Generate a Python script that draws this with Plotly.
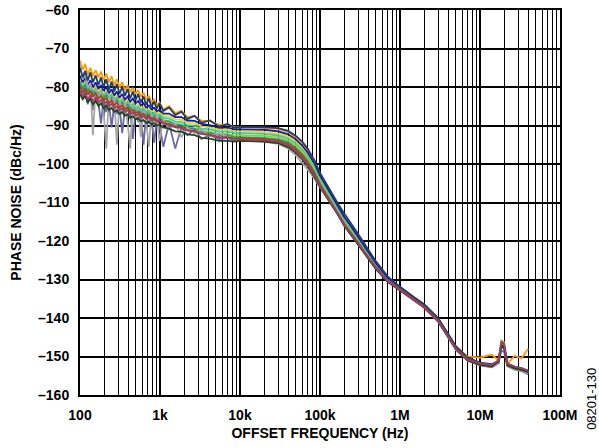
import plotly.graph_objects as go

# Offset frequencies (Hz)
F_LOW = [100, 108, 116, 125, 135, 145, 157, 170, 183, 197, 213, 230, 248, 268, 289, 312, 337,
         364, 393, 424, 458, 494, 533, 576, 622, 671, 725, 782, 845, 912, 985, 1100, 1300,
         1550, 1850, 2200, 2700, 3300, 4200, 5500, 7000, 8500]
F_HIGH = [10000, 15000, 20000, 30000, 40000, 50000, 60000, 70000, 85000, 100000,
          130000, 170000, 200000, 250000, 300000, 400000, 500000, 700000, 1e6, 1.5e6,
          2e6, 3e6, 4e6, 5e6, 7e6, 1e7, 1.4e7, 1.7e7, 1.85e7, 2e7, 2.2e7, 2.7e7, 3.3e7, 4e7]

# Phase noise (dBc/Hz), low-offset region
orange_low = [-73.2, -75.5, -74.0, -76.8, -75.0, -77.2, -75.6, -77.5, -76.0, -78.2, -76.5, -78.8,
              -77.2, -79.5, -78.0, -80.2, -78.8, -80.8, -79.5, -81.3, -80.2, -81.8, -80.8, -82.5,
              -81.5, -83.2, -82.3, -84.0, -83.2, -84.8, -84.0, -85.8, -85.0, -86.8, -86.2, -87.8,
              -87.5, -88.8, -88.8, -89.8, -89.8, -90.4]
navy_low = [-75.0, -77.5, -75.8, -78.3, -76.2, -78.8, -77.0, -79.5, -77.5, -80.0, -78.0, -80.8,
            -78.6, -81.2, -79.2, -81.8, -80.0, -82.3, -80.5, -83.0, -81.2, -83.5, -81.8, -84.0,
            -82.5, -84.6, -83.0, -85.2, -83.8, -85.6, -84.2, -86.2, -85.3, -87.3, -86.4, -88.3,
            -87.5, -89.3, -88.7, -90.3, -89.6, -90.6]
blue_low = [-77.0, -78.8, -77.6, -79.5, -78.2, -80.0, -78.8, -80.5, -79.5, -81.0, -80.0, -81.6,
            -80.6, -82.2, -81.2, -82.8, -81.8, -83.3, -82.5, -83.8, -83.0, -84.3, -83.6, -84.8,
            -84.2, -85.3, -84.8, -85.8, -85.4, -86.3, -85.9, -86.9, -86.9, -87.8, -87.8, -88.7,
            -88.8, -89.6, -89.9, -90.6, -90.5, -91.0]
yellow_low = [-78.0, -79.5, -78.5, -80.2, -79.2, -80.8, -79.8, -81.3, -80.5, -81.8, -81.0, -82.4,
              -81.6, -83.0, -82.2, -83.5, -82.8, -84.0, -83.4, -84.5, -84.0, -85.0, -84.6, -85.5,
              -85.2, -86.0, -85.7, -86.4, -86.2, -86.9, -86.7, -87.5, -87.6, -88.4, -88.5, -89.3,
              -89.5, -90.2, -90.5, -91.1, -91.1, -91.5]
cyan_low = [-78.5, -80.2, -79.0, -80.8, -79.8, -81.3, -80.4, -81.8, -81.0, -82.3, -81.5, -82.9,
            -82.1, -83.4, -82.7, -84.0, -83.3, -84.5, -83.9, -85.0, -84.5, -85.5, -85.1, -86.0,
            -85.6, -86.5, -86.2, -87.0, -86.7, -87.4, -87.2, -88.0, -88.2, -89.0, -89.1, -89.9,
            -90.1, -90.8, -91.0, -91.6, -91.6, -92.0]
lime_low = [-79.2, -80.8, -79.7, -81.4, -80.4, -81.9, -81.0, -82.4, -81.6, -82.9, -82.1, -83.4,
            -82.7, -84.0, -83.3, -84.5, -83.9, -85.0, -84.5, -85.6, -85.1, -86.1, -85.7, -86.6,
            -86.3, -87.1, -86.8, -87.5, -87.3, -88.0, -87.8, -88.6, -88.8, -89.6, -89.7, -90.5,
            -90.7, -91.4, -91.6, -92.2, -92.2, -92.6]
teal_low = [-78.8, -80.6, -79.5, -81.2, -80.2, -81.8, -80.9, -82.3, -81.5, -82.9, -82.1, -83.5,
            -82.8, -84.0, -83.4, -84.6, -84.0, -85.2, -84.6, -85.7, -85.2, -86.2, -85.8, -86.7,
            -86.4, -87.2, -86.9, -87.7, -87.4, -88.1, -87.9, -88.8, -89.0, -89.8, -89.9, -90.7,
            -90.9, -91.7, -91.9, -92.5, -92.5, -93.0]
rust_low = [-79.8, -81.5, -80.4, -82.0, -81.0, -82.6, -81.6, -83.1, -82.3, -83.6, -82.9, -84.2,
            -83.5, -84.7, -84.1, -85.3, -84.7, -85.8, -85.3, -86.3, -85.9, -86.8, -86.4, -87.3,
            -87.0, -87.8, -87.5, -88.2, -88.0, -88.7, -88.5, -89.3, -89.6, -90.3, -90.4, -91.2,
            -91.4, -92.2, -92.4, -93.0, -93.0, -93.4]
slate_low = [-79.5, -83.0, -80.5, -84.5, -81.5, -86.0, -82.0, -84.0, -89.5, -83.0, -86.5, -84.0,
             -90.5, -84.5, -87.0, -85.0, -92.0, -85.5, -88.0, -86.0, -93.5, -86.5, -89.0, -87.0,
             -95.0, -87.5, -89.5, -88.0, -94.5, -88.5, -90.0, -95.5, -89.5, -96.0, -90.5, -92.5,
             -91.0, -93.5, -92.5, -93.5, -93.2, -94.0]
gray_low = [-74.0, -78.0, -76.5, -80.0, -79.0, -92.5, -80.5, -83.0, -81.0, -86.0, -96.0, -82.0,
            -84.5, -82.5, -95.0, -83.5, -87.0, -84.0, -89.0, -96.0, -85.0, -88.0, -85.5, -93.0,
            -86.0, -88.5, -95.5, -87.0, -89.5, -87.5, -94.0, -88.5, -91.0, -89.5, -93.0, -90.5,
            -92.0, -91.0, -92.8, -92.0, -93.0, -93.5]
maroon_low = [-81.0, -82.5, -81.5, -83.2, -82.2, -83.6, -82.8, -84.0, -83.3, -84.5, -83.8, -85.0,
              -84.4, -85.5, -85.0, -86.0, -85.5, -86.5, -86.0, -87.0, -86.6, -87.4, -87.1, -87.9,
              -87.6, -88.3, -88.0, -88.7, -88.4, -89.0, -88.8, -89.5, -89.8, -90.5, -90.6, -91.3,
              -91.5, -92.2, -92.5, -93.1, -93.2, -93.5]
dkgreen_low = [-81.8, -83.2, -82.3, -84.0, -83.0, -84.5, -83.6, -85.0, -84.2, -85.5, -84.8, -86.0,
               -85.4, -86.5, -86.0, -87.0, -86.5, -87.5, -87.1, -88.0, -87.6, -88.4, -88.1, -88.9,
               -88.6, -89.3, -89.0, -89.7, -89.4, -90.0, -89.8, -90.5, -90.8, -91.5, -91.6, -92.3,
               -92.5, -93.2, -93.4, -94.0, -94.0, -94.2]

# Phase noise (dBc/Hz), high-offset region
orange_high = [-90.5, -90.5, -90.6, -90.9, -91.7, -93.0, -94.5, -96.3, -99.3, -102.5, -106.8, -110.8,
               -113.2, -116.0, -118.5, -122.5, -125.5, -129.4, -132.0, -134.7, -136.5, -140.2, -144.2,
               -147.5, -150.0, -150.3, -149.5, -151.0, -147.0, -147.5, -152.0, -149.8, -150.5, -148.0]
navy_high = [-90.4, -90.4, -90.4, -90.7, -91.4, -92.7, -94.2, -96.0, -99.0, -102.3, -106.5, -110.5,
             -112.8, -115.7, -118.2, -122.2, -125.3, -129.2, -131.9, -134.6, -136.4, -140.0, -144.0,
             -147.3, -150.3, -151.6, -152.0, -151.3, -147.5, -147.8, -151.8, -152.6, -153.0, -154.0]
blue_high = [-91.0, -91.0, -91.1, -91.5, -92.3, -93.6, -95.2, -97.0, -99.8, -103.0, -107.2, -111.2,
             -113.7, -116.5, -118.9, -122.9, -125.8, -129.6, -132.1, -134.8, -136.6, -140.3, -144.3,
             -147.6, -150.5, -151.8, -152.3, -151.5, -147.0, -147.5, -152.0, -152.8, -153.2, -153.8]
yellow_high = [-91.5, -91.6, -91.7, -92.1, -92.9, -94.2, -95.8, -97.6, -100.4, -103.6, -107.7, -111.7,
               -114.2, -116.9, -119.3, -123.2, -126.1, -129.8, -132.2, -134.9, -136.7, -140.4, -144.4,
               -147.7, -150.6, -151.9, -152.4, -151.6, -146.8, -147.2, -152.2, -152.9, -153.3, -153.9]
cyan_high = [-92.0, -92.1, -92.2, -92.6, -93.4, -94.7, -96.3, -98.1, -100.9, -104.1, -108.1, -112.1,
             -114.6, -117.3, -119.7, -123.5, -126.4, -130.0, -132.3, -135.0, -136.8, -140.5, -144.5,
             -147.8, -150.7, -152.0, -152.5, -151.7, -147.5, -147.8, -152.3, -153.0, -153.4, -154.0]
lime_high = [-92.5, -92.6, -92.7, -93.1, -93.9, -95.2, -96.8, -98.6, -101.4, -104.6, -108.5, -112.5,
             -115.0, -117.7, -120.0, -123.8, -126.6, -130.2, -132.4, -135.1, -136.9, -140.6, -144.6,
             -147.9, -150.8, -152.0, -152.5, -151.0, -145.8, -146.3, -152.0, -153.0, -153.5, -154.2]
teal_high = [-93.0, -93.1, -93.2, -93.6, -94.4, -95.8, -97.4, -99.2, -102.0, -105.1, -109.0, -112.9,
             -115.4, -118.1, -120.3, -124.1, -126.8, -130.3, -132.5, -135.2, -137.0, -140.7, -144.7,
             -148.0, -150.9, -152.1, -152.6, -151.4, -146.5, -147.0, -152.2, -153.1, -153.6, -154.5]
rust_high = [-93.3, -93.4, -93.5, -93.9, -94.8, -96.2, -97.8, -99.6, -102.4, -105.4, -109.2, -113.1,
             -115.6, -118.3, -120.5, -124.3, -126.9, -130.4, -132.5, -135.2, -137.0, -140.6, -144.6,
             -147.9, -150.7, -151.9, -152.3, -151.2, -147.0, -147.3, -152.0, -152.8, -153.3, -154.0]
slate_high = [-93.5, -93.7, -93.8, -94.3, -95.3, -96.8, -98.5, -100.3, -103.0, -105.8, -109.4, -113.3,
              -115.8, -118.5, -120.7, -124.4, -127.0, -130.4, -132.6, -135.3, -137.2, -140.9, -144.9,
              -148.2, -151.1, -152.3, -152.8, -151.8, -148.5, -148.8, -152.5, -153.4, -153.8, -154.6]
gray_high = [-93.8, -94.0, -94.2, -94.8, -96.0, -97.8, -99.6, -101.4, -103.8, -106.0, -109.5, -113.2,
             -115.9, -118.7, -121.0, -124.6, -127.2, -130.3, -132.6, -135.4, -137.3, -141.0, -145.0,
             -148.3, -151.0, -152.2, -152.7, -151.6, -147.5, -147.8, -152.4, -153.3, -153.7, -154.3]
maroon_high = [-93.6, -93.7, -93.8, -94.2, -95.2, -96.7, -98.4, -100.2, -102.9, -105.7, -109.3, -113.1,
               -115.7, -118.4, -120.7, -124.4, -127.0, -130.4, -132.7, -135.4, -137.2, -140.8, -144.8,
               -148.0, -150.8, -151.8, -152.2, -151.0, -146.2, -146.6, -151.9, -152.6, -153.0, -153.6]
dkgreen_high = [-94.0, -94.1, -94.2, -94.6, -95.6, -97.1, -98.8, -100.6, -103.3, -106.0, -109.6, -113.4,
                -116.0, -118.7, -121.0, -124.7, -127.3, -130.6, -132.8, -135.5, -137.3, -140.9, -144.9,
                -148.1, -151.0, -152.2, -152.6, -151.3, -147.2, -147.5, -152.3, -153.1, -153.5, -154.0]

SERIES = [
    ("orange", orange_low, orange_high, "#ff9900"),
    ("yellow", yellow_low, yellow_high, "#e0e000"),
    ("cyan", cyan_low, cyan_high, "#33c4cc"),
    ("lime", lime_low, lime_high, "#99cc33"),
    ("blue", blue_low, blue_high, "#1a1aa8"),
    ("teal", teal_low, teal_high, "#339966"),
    ("slate", slate_low, slate_high, "#6a6aa8"),
    ("gray", gray_low, gray_high, "#a6a6a6"),
    ("navy", navy_low, navy_high, "#1f3d6e"),
    ("rust", rust_low, rust_high, "#a8441a"),
    ("dkgreen", dkgreen_low, dkgreen_high, "#1a4a1a"),
    ("maroon", maroon_low, maroon_high, "#a03c6a"),
]

X_TICKS = [100, 1000, 10000, 100000, 1e6, 1e7, 1e8]
X_LABELS = ["100", "1k", "10k", "100k", "1M", "10M", "100M"]
Y_TICKS = [-160, -150, -140, -130, -120, -110, -100, -90, -80, -70, -60]
Y_LABELS = ["–160", "–150", "–140", "–130", "–120", "–110", "–100", "–90", "–80", "–70", "–60"]

fig = go.Figure()
for name, lo, hi, color in SERIES:
    assert len(lo) == len(F_LOW) and len(hi) == len(F_HIGH), name
    fig.add_trace(go.Scatter(x=F_LOW + F_HIGH, y=lo + hi, mode="lines", name=name,
                             line=dict(color=color, width=1.8), showlegend=False))

FONT = "Liberation Sans, Arial, sans-serif"
fig.update_layout(
    width=599, height=448,
    margin=dict(l=80, r=39, t=10, b=53),
    paper_bgcolor="white", plot_bgcolor="white",
    font=dict(family=FONT, size=14, color="black"),
    showlegend=False,
)
fig.update_xaxes(
    type="log", range=[2, 8], automargin=False,
    tickvals=X_TICKS, ticktext=X_LABELS,
    tickfont=dict(family=FONT, size=14, color="black", weight="bold"),
    ticklabelstandoff=6, ticklabeloverflow="allow",
    showgrid=True, gridcolor="black", gridwidth=1.5,
    minor=dict(showgrid=True, gridcolor="black", gridwidth=1.3, dtick="D1", ticks=""),
    showline=True, linecolor="black", linewidth=2, mirror=True,
    ticks="", zeroline=False,
    title=dict(text="<b>OFFSET FREQUENCY (Hz)</b>", font=dict(family=FONT, size=14), standoff=6),
)
fig.update_yaxes(
    range=[-160, -60], automargin=False,
    tickvals=Y_TICKS, ticktext=Y_LABELS,
    tickfont=dict(family=FONT, size=14, color="black", weight="bold"),
    ticklabelstandoff=6, ticklabeloverflow="allow",
    showgrid=True, gridcolor="black", gridwidth=1.5,
    showline=True, linecolor="black", linewidth=2, mirror=True,
    ticks="", zeroline=False,
    title=dict(text="<b>PHASE NOISE (dBc/Hz)</b>", font=dict(family=FONT, size=14), standoff=13),
)
fig.add_annotation(text="08201-130", xref="paper", yref="paper", x=1.0667, y=-0.01,
                   xanchor="center", yanchor="middle", textangle=-90, showarrow=False,
                   font=dict(family=FONT, size=13, color="black"))

# remove the browser's default page margin so the figure sits at the window's corner
fig.write_html("out.html", config={"displayModeBar": False},
               post_script="document.body.style.margin='0';")
